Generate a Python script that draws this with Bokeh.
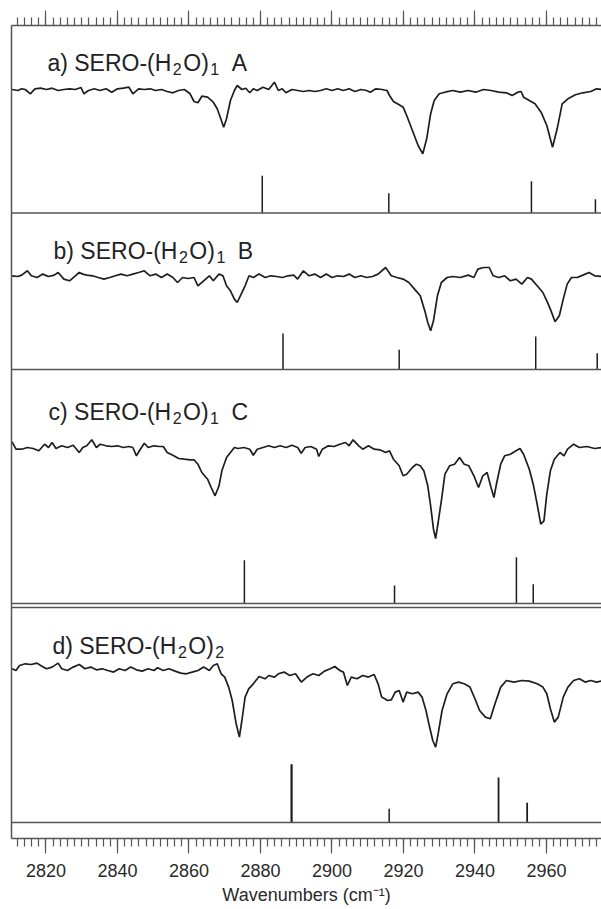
from bokeh.plotting import figure
from bokeh.models import Range1d, LinearAxis, FixedTicker, Span, ColumnDataSource
from bokeh.core.properties import value
from bokeh.embed import file_html
from bokeh.resources import INLINE

# ---------------- data ----------------
# Measured IR-UV depletion traces: wavenumber (cm^-1) and relative signal (baseline = 1)
a_wn = [2810.5, 2812.1, 2813.2, 2814.2, 2815.6, 2816.9, 2818.5, 2820.1, 2821.7, 2823.4, 2825.0, 2826.6,
        2828.2, 2829.8, 2830.6, 2831.9, 2833.5, 2835.1, 2836.8, 2838.4, 2840.0, 2841.6, 2843.2, 2844.3,
        2845.9, 2847.5, 2849.1, 2850.7, 2852.3, 2853.9, 2855.5, 2857.1, 2858.7, 2860.3, 2861.4, 2862.5,
        2863.6, 2865.2, 2866.8, 2867.9, 2868.9, 2869.7, 2870.5, 2871.6, 2872.7, 2873.5, 2874.8, 2875.9,
        2877.0, 2878.0, 2879.1, 2880.7, 2882.3, 2883.9, 2885.0, 2886.1, 2887.1, 2888.8, 2890.4, 2892.0,
        2893.6, 2895.2, 2896.8, 2898.4, 2900.0, 2901.6, 2903.2, 2904.8, 2906.4, 2908.1, 2909.7, 2910.7,
        2912.3, 2914.0, 2915.4, 2916.1, 2917.2, 2918.8, 2919.9, 2920.9, 2922.5, 2924.1, 2925.4, 2926.5,
        2927.6, 2928.6, 2930.0, 2931.6, 2933.8, 2935.9, 2938.1, 2940.2, 2942.4, 2944.5, 2946.7, 2948.8,
        2950.4, 2952.0, 2952.9, 2953.6, 2955.2, 2956.8, 2958.5, 2960.1, 2961.7, 2963.0, 2964.4, 2966.0,
        2968.1, 2970.2, 2972.4, 2974.0, 2975.4]
a_sig = [1.000, 0.990, 1.007, 1.000, 0.957, 1.007, 1.013, 1.000, 1.013, 0.990, 1.000, 1.007,
         1.000, 1.020, 0.957, 0.990, 1.007, 0.990, 1.007, 0.973, 1.007, 1.013, 1.023, 0.957,
         1.007, 1.000, 1.007, 0.990, 1.000, 0.980, 0.967, 0.990, 1.000, 0.957, 0.880, 0.867,
         0.933, 0.923, 0.873, 0.807, 0.707, 0.623, 0.707, 0.890, 0.990, 1.040, 1.000, 1.013,
         0.967, 1.007, 0.990, 1.023, 1.000, 1.073, 0.990, 1.007, 0.967, 1.000, 0.990, 0.980,
         0.990, 0.980, 0.990, 1.007, 0.990, 1.007, 0.990, 1.007, 0.980, 1.000, 0.990, 0.973,
         1.007, 1.000, 0.990, 0.940, 0.880, 0.847, 0.823, 0.740, 0.590, 0.440, 0.357, 0.507,
         0.757, 0.890, 0.957, 0.973, 0.990, 0.973, 0.990, 0.973, 1.000, 0.990, 0.973, 0.967,
         0.940, 0.973, 0.980, 0.923, 0.890, 0.857, 0.773, 0.640, 0.423, 0.607, 0.857, 0.907,
         0.947, 0.967, 0.980, 1.007, 1.000]

b_wn = [2810.5, 2812.1, 2813.2, 2814.8, 2815.9, 2817.5, 2819.1, 2820.7, 2822.3, 2823.4, 2825.0, 2826.6,
        2828.2, 2829.3, 2830.3, 2831.4, 2833.0, 2834.6, 2836.2, 2837.8, 2839.4, 2841.0, 2842.7, 2844.3,
        2845.9, 2847.5, 2849.1, 2850.7, 2852.3, 2853.9, 2855.5, 2856.8, 2858.2, 2859.8, 2861.4, 2862.5,
        2864.1, 2865.7, 2866.8, 2868.4, 2869.5, 2870.5, 2871.6, 2872.7, 2873.5, 2874.6, 2875.7, 2876.8,
        2878.0, 2879.6, 2881.3, 2882.9, 2884.5, 2886.1, 2887.7, 2889.3, 2890.4, 2892.0, 2893.6, 2895.2,
        2896.8, 2898.4, 2900.0, 2901.6, 2903.2, 2904.8, 2906.4, 2908.1, 2909.7, 2911.3, 2912.9, 2915.0,
        2916.6, 2918.2, 2919.9, 2921.5, 2923.1, 2924.7, 2926.1, 2926.8, 2927.6, 2928.4, 2929.5, 2930.6,
        2932.2, 2933.8, 2935.9, 2938.1, 2939.7, 2940.8, 2942.4, 2944.0, 2945.1, 2946.7, 2948.3, 2949.9,
        2951.5, 2953.1, 2954.7, 2955.8, 2957.4, 2959.0, 2960.1, 2961.1, 2962.4, 2963.6, 2964.7, 2965.8,
        2967.0, 2968.6, 2970.2, 2971.9, 2973.5, 2975.4]
b_sig = [1.000, 0.993, 1.007, 1.050, 1.000, 0.983, 1.017, 0.993, 1.007, 1.033, 0.967, 0.950,
         1.000, 1.033, 1.017, 1.007, 1.000, 0.983, 0.967, 0.983, 1.000, 1.017, 1.000, 1.017,
         1.033, 1.050, 1.000, 1.017, 0.983, 1.017, 0.983, 0.933, 0.983, 0.973, 0.983, 0.900,
         0.950, 1.000, 0.950, 1.017, 1.000, 0.900, 0.850, 0.767, 0.733, 0.817, 0.900, 1.000,
         0.983, 1.017, 0.983, 1.000, 0.993, 0.983, 1.000, 1.007, 0.967, 1.050, 1.000, 1.017,
         0.983, 1.017, 0.983, 1.000, 0.993, 1.017, 0.983, 1.000, 0.983, 0.993, 1.017, 1.083,
         1.000, 0.983, 0.967, 0.933, 0.867, 0.800, 0.633, 0.533, 0.450, 0.550, 0.800, 0.933,
         0.983, 0.993, 0.983, 1.007, 0.983, 1.067, 1.083, 1.083, 1.000, 0.983, 1.000, 0.950,
         0.967, 0.917, 0.983, 0.967, 0.900, 0.833, 0.750, 0.667, 0.540, 0.600, 0.767, 0.917,
         0.983, 0.983, 1.007, 1.033, 1.000, 0.993]

c_wn = [2810.5, 2811.6, 2813.2, 2814.8, 2816.4, 2818.0, 2819.6, 2820.7, 2821.7, 2822.8, 2824.4, 2826.0,
        2827.6, 2829.3, 2830.3, 2831.4, 2832.8, 2834.1, 2835.2, 2836.8, 2838.4, 2840.0, 2841.6, 2843.2,
        2844.3, 2845.3, 2846.4, 2847.5, 2848.6, 2850.2, 2851.8, 2852.8, 2853.9, 2855.5, 2857.1, 2858.7,
        2860.3, 2861.4, 2862.5, 2863.6, 2865.2, 2866.2, 2867.3, 2868.4, 2869.2, 2870.5, 2871.6, 2872.7,
        2873.7, 2875.4, 2877.0, 2878.0, 2879.1, 2880.7, 2882.3, 2883.9, 2885.5, 2887.2, 2888.8, 2890.4,
        2891.4, 2892.5, 2894.1, 2895.7, 2896.3, 2897.3, 2899.0, 2900.6, 2902.2, 2903.8, 2904.8, 2905.9,
        2907.5, 2908.6, 2910.2, 2911.8, 2913.4, 2915.0, 2916.1, 2917.2, 2918.8, 2919.9, 2920.9, 2922.5,
        2923.6, 2924.7, 2925.7, 2926.8, 2927.6, 2928.4, 2929.0, 2929.7, 2930.6, 2931.6, 2932.9, 2934.3,
        2935.7, 2937.0, 2938.3, 2939.7, 2941.0, 2942.2, 2943.4, 2944.5, 2945.3, 2946.1, 2947.2, 2948.3,
        2949.9, 2951.5, 2952.6, 2953.6, 2955.2, 2956.3, 2957.4, 2958.4, 2959.3, 2960.1, 2961.1, 2962.2,
        2963.8, 2964.9, 2965.9, 2967.6, 2969.2, 2971.3, 2973.5, 2975.4]
c_sig = [1.057, 0.983, 0.983, 1.000, 0.990, 0.967, 1.033, 1.000, 1.050, 0.990, 1.017, 1.000,
         1.023, 0.950, 1.000, 1.017, 1.077, 1.000, 1.033, 1.017, 1.010, 1.017, 1.000, 1.010,
         1.000, 0.917, 0.983, 1.043, 1.000, 1.017, 1.010, 1.010, 0.950, 0.923, 0.890, 0.883,
         0.877, 0.877, 0.833, 0.750, 0.683, 0.600, 0.517, 0.617, 0.767, 0.900, 0.950, 1.000,
         0.990, 1.000, 0.983, 0.923, 0.983, 1.000, 1.017, 1.000, 1.017, 1.000, 1.023, 1.000,
         0.943, 1.000, 1.010, 0.983, 0.910, 0.983, 1.017, 1.010, 1.033, 1.050, 1.017, 1.077,
         1.017, 0.983, 1.017, 0.983, 0.977, 0.950, 0.967, 0.883, 0.817, 0.717, 0.733, 0.800,
         0.833, 0.817, 0.767, 0.617, 0.417, 0.183, 0.090, 0.250, 0.467, 0.733, 0.817, 0.833,
         0.900, 0.833, 0.817, 0.717, 0.600, 0.717, 0.750, 0.600, 0.500, 0.650, 0.833, 0.917,
         0.933, 0.967, 0.990, 0.933, 0.783, 0.633, 0.433, 0.233, 0.267, 0.533, 0.767, 0.883,
         0.950, 0.917, 0.983, 1.033, 1.000, 1.010, 0.990, 1.000]

d_wn = [2810.5, 2811.6, 2812.6, 2814.2, 2815.8, 2817.5, 2818.5, 2820.1, 2821.7, 2823.4, 2824.4, 2826.0,
        2827.6, 2829.3, 2830.9, 2832.5, 2834.1, 2835.7, 2837.3, 2838.9, 2840.5, 2842.1, 2843.7, 2845.3,
        2846.9, 2848.6, 2850.2, 2851.2, 2852.8, 2854.4, 2856.1, 2857.7, 2859.3, 2860.9, 2862.5, 2864.1,
        2865.7, 2866.8, 2867.9, 2869.0, 2870.0, 2871.1, 2872.1, 2873.2, 2874.1, 2874.8, 2875.7, 2876.7,
        2878.0, 2879.6, 2881.3, 2882.3, 2883.9, 2885.0, 2886.6, 2888.2, 2889.8, 2891.4, 2893.0, 2894.7,
        2896.3, 2897.9, 2899.5, 2900.8, 2902.2, 2903.2, 2904.3, 2905.4, 2907.0, 2908.6, 2910.2, 2911.8,
        2912.9, 2913.9, 2915.6, 2916.6, 2917.7, 2918.8, 2919.9, 2920.9, 2922.5, 2924.1, 2925.2, 2926.3,
        2927.1, 2928.2, 2929.0, 2929.7, 2930.8, 2932.2, 2933.8, 2935.4, 2937.0, 2938.6, 2940.2, 2941.3,
        2942.9, 2944.3, 2945.6, 2947.2, 2948.8, 2950.9, 2953.1, 2955.2, 2957.4, 2959.0, 2960.1, 2961.1,
        2962.2, 2963.3, 2964.7, 2966.0, 2967.6, 2969.2, 2970.8, 2972.4, 2974.0, 2975.4]
d_sig = [1.000, 0.983, 1.033, 1.050, 1.043, 1.057, 1.033, 1.000, 1.017, 1.057, 1.000, 0.983,
         1.017, 1.043, 1.000, 1.017, 0.990, 1.000, 0.983, 0.967, 1.000, 0.983, 1.017, 0.990,
         0.977, 1.000, 0.983, 1.010, 0.983, 1.000, 0.977, 0.957, 0.950, 0.967, 0.983, 1.017,
         0.983, 1.033, 1.050, 0.950, 0.917, 0.817, 0.683, 0.450, 0.317, 0.483, 0.717, 0.800,
         0.850, 0.923, 0.900, 0.933, 0.917, 0.950, 0.967, 0.933, 0.950, 0.867, 0.917, 0.950,
         0.933, 0.977, 1.000, 1.023, 0.983, 0.967, 0.833, 0.917, 0.900, 0.933, 0.917, 0.943,
         0.850, 0.717, 0.683, 0.690, 0.767, 0.783, 0.667, 0.767, 0.750, 0.767, 0.717, 0.583,
         0.450, 0.283, 0.217, 0.350, 0.583, 0.750, 0.850, 0.867, 0.850, 0.817, 0.683, 0.583,
         0.517, 0.500, 0.650, 0.817, 0.883, 0.867, 0.883, 0.877, 0.850, 0.817, 0.750, 0.600,
         0.467, 0.517, 0.717, 0.817, 0.883, 0.900, 0.867, 0.883, 0.867, 0.877]

# Calculated (stick) spectra: wavenumber and relative intensity
a_stick_wn = [2880.5, 2915.9, 2955.8, 2973.7]
a_stick_int = [0.62, 0.33, 0.53, 0.23]
b_stick_wn = [2886.3, 2918.8, 2957.0, 2974.2]
b_stick_int = [0.60, 0.33, 0.55, 0.27]
c_stick_wn = [2875.5, 2917.5, 2951.6, 2956.3]
c_stick_int = [0.72, 0.30, 0.77, 0.32]
d_stick_wn = [2888.7, 2916.0, 2946.6, 2954.6]
d_stick_int = [0.97, 0.23, 0.75, 0.33]

# panel titles: (text, kind) pieces; kind: "main", "sub" (subscript) or "tail" (spaced final letter)
panel_labels = [
    [("a) SERO-(H", "main"), ("2", "sub"), ("O)", "main"), ("1", "sub"), ("A", "tail")],
    [("b) SERO-(H", "main"), ("2", "sub"), ("O)", "main"), ("1", "sub"), ("B", "tail")],
    [("c) SERO-(H", "main"), ("2", "sub"), ("O)", "main"), ("1", "sub"), ("C", "tail")],
    [("d) SERO-(H", "main"), ("2", "sub"), ("O)", "main"), ("2", "sub")],
]
major_ticks = [2820, 2840, 2860, 2880, 2900, 2920, 2940, 2960]
x_label = "Wavenumbers (cm\u207b\u00b9)"

# ---------------- layout (vertical placement of the stacked panels) ----------------
X_START, X_END = 2810.35, 2975.4
Y_TOP = 813
TRACE_SCALE = 100.0   # vertical units per unit of relative signal
STICK_SCALE = 60.0    # vertical units per unit of stick intensity
layout = [
    dict(trace_base=749.0, stick_base=625.5, label_x=2820.4, label_y=776.0, stick_w=[1.5, 1.5, 1.5, 1.5]),
    dict(trace_base=562.7, stick_base=469.0, label_x=2822.1, label_y=588.0, stick_w=[1.5, 1.5, 1.5, 1.5]),
    dict(trace_base=391.0, stick_base=235.0, label_x=2820.7, label_y=426.3, stick_w=[1.5, 1.5, 1.5, 1.5]),
    dict(trace_base=169.7, stick_base=16.0, label_x=2821.8, label_y=193.0, stick_w=[2.2, 1.5, 1.8, 1.8]),
]
separators = [625.5, 469.0, 235.0, 231.0, 16.0]

traces = [(a_wn, a_sig), (b_wn, b_sig), (c_wn, c_sig), (d_wn, d_sig)]
sticks = [(a_stick_wn, a_stick_int), (b_stick_wn, b_stick_int),
          (c_stick_wn, c_stick_int), (d_stick_wn, d_stick_int)]

FONT = "Liberation Sans"
FRAME = "#555555"
INK = "#1e1e1e"
MAIN_SIZE = 23
SUB_SIZE = 16
SUB_DROP = 6
SUB_GAP = 1.5
TAIL_GAP = 11
# Arial / Liberation Sans advance widths (per 1000 em) used to lay out the title pieces
ADV = {" ": 278, "(": 333, ")": 333, "-": 333, "A": 667, "B": 667, "C": 722, "E": 667,
       "H": 722, "O": 778, "R": 722, "S": 667, "a": 556, "b": 556, "c": 500, "d": 556}


def width_px(s, size):
    return sum(ADV.get(ch, 556) for ch in s) * size / 1000.0


p = figure(width=601, height=909, output_backend="svg", toolbar_location=None,
           x_range=Range1d(X_START, X_END), y_range=Range1d(0, Y_TOP),
           min_border_left=11, min_border_right=0, min_border_top=25, min_border_bottom=71)
p.outline_line_color = None
p.grid.visible = False
p.background_fill_color = "white"
p.border_fill_color = "white"

minor = list(range(2812, 2976, 2))

# bottom axis
xa = p.xaxis[0]
xa.ticker = FixedTicker(ticks=major_ticks, minor_ticks=minor)
xa.axis_line_color = FRAME
xa.axis_line_width = 1.5
xa.major_tick_line_color = FRAME
xa.minor_tick_line_color = FRAME
xa.major_tick_line_width = 1.2
xa.minor_tick_line_width = 1.2
xa.major_tick_in = 0
xa.minor_tick_in = 0
xa.major_tick_out = 15
xa.minor_tick_out = 8
xa.major_label_standoff = 10
xa.major_label_text_font = FONT
xa.major_label_text_font_size = "18px"
xa.major_label_text_color = "#2a2a2a"
xa.axis_label = x_label
xa.axis_label_text_font = FONT
xa.axis_label_text_font_size = "18px"
xa.axis_label_text_font_style = "normal"
xa.axis_label_text_color = "#2a2a2a"
xa.axis_label_standoff = 5

# top axis (ticks only)
ta = LinearAxis(ticker=FixedTicker(ticks=major_ticks, minor_ticks=minor))
ta.axis_line_color = FRAME
ta.axis_line_width = 1.5
ta.major_tick_line_color = FRAME
ta.minor_tick_line_color = FRAME
ta.major_tick_line_width = 1.2
ta.minor_tick_line_width = 1.2
ta.major_tick_in = 0
ta.minor_tick_in = 0
ta.major_tick_out = 15
ta.minor_tick_out = 8
ta.major_label_standoff = 0
ta.major_label_text_font_size = "1px"
ta.major_label_text_color = None
p.add_layout(ta, "above")

# left axis (frame line only)
ya = p.yaxis[0]
ya.ticker = FixedTicker(ticks=[])
ya.major_tick_out = 0
ya.major_tick_in = 0
ya.minor_tick_out = 0
ya.minor_tick_in = 0
ya.major_label_standoff = 0
ya.major_label_text_font_size = "1px"
ya.axis_line_color = FRAME
ya.axis_line_width = 1.5

for loc in separators:
    p.add_layout(Span(location=loc, dimension="width", line_color=FRAME, line_width=1.5))

for (wn, sig), (swn, sint), lay, pieces in zip(traces, sticks, layout, panel_labels):
    ys = [lay["trace_base"] + (s - 1.0) * TRACE_SCALE for s in sig]
    p.line(wn, ys, line_color=INK, line_width=1.7)
    src = ColumnDataSource(dict(x=swn, y0=[lay["stick_base"]] * len(swn),
                                y1=[lay["stick_base"] + v * STICK_SCALE for v in sint],
                                w=lay["stick_w"]))
    p.segment(x0="x", y0="y0", x1="x", y1="y1", source=src, line_color=INK, line_width="w")
    off = 0.0
    for txt, kind in pieces:
        size = SUB_SIZE if kind == "sub" else MAIN_SIZE
        if kind == "sub":
            off += SUB_GAP
        elif kind == "tail":
            off += TAIL_GAP
        p.text(x=[lay["label_x"]], y=[lay["label_y"]], text=[txt], text_font=value(FONT),
               text_font_size=f"{size}px", text_color="#222222", text_baseline="alphabetic",
               text_align="left", x_offset=off, y_offset=SUB_DROP if kind == "sub" else 0)
        off += width_px(txt, size)
        if kind == "sub":
            off += SUB_GAP

open("out.html", "w").write(file_html(p, INLINE))
